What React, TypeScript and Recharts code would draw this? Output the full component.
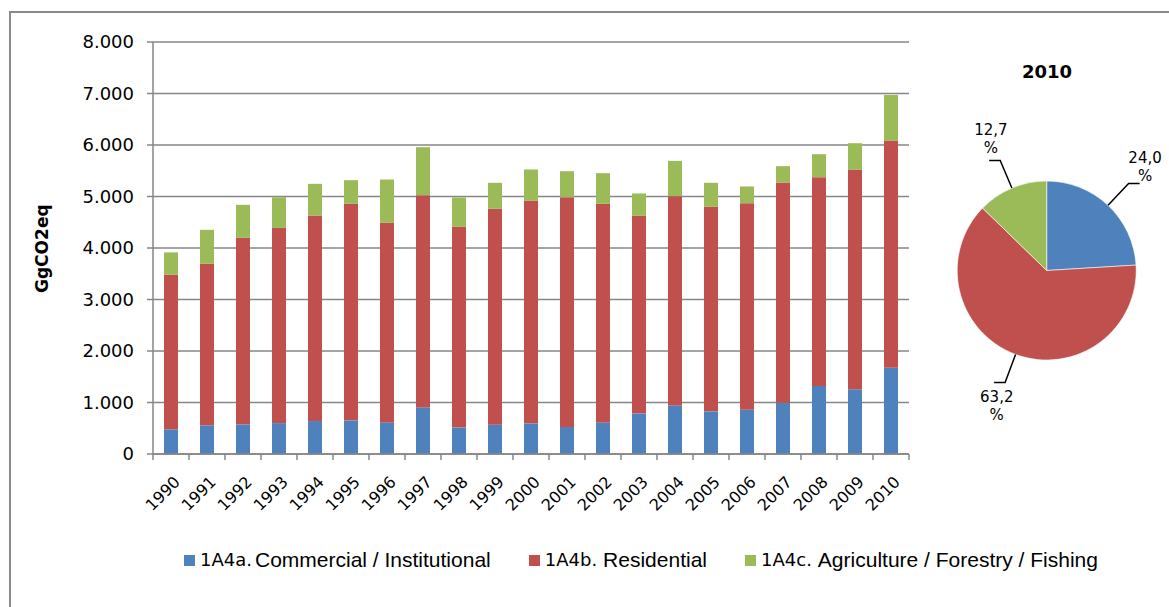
import React from 'react';
import { BarChart, Bar, XAxis, YAxis, CartesianGrid, PieChart, Pie, Cell } from 'recharts';

const years = ['1990','1991','1992','1993','1994','1995','1996','1997','1998','1999','2000','2001','2002','2003','2004','2005','2006','2007','2008','2009','2010'];
const commercial = [480,557,576,600,640,653,614,905,517,569,595,524,614,789,944,828,860,996,1320,1255,1676];
const residential = [3000,3136,3622,3790,3992,4205,3875,4121,3894,4192,4321,4463,4244,3836,4063,3972,4011,4276,4056,4262,4410];
const agriculture = [435,660,640,595,614,459,841,932,570,505,609,505,595,434,685,466,324,317,446,518,887];
const yTicks = [0,1000,2000,3000,4000,5000,6000,7000,8000];

const seriesCodes = ['1A4a.', '1A4b.', '1A4c.'];
const seriesNames = ['Commercial / Institutional', 'Residential', 'Agriculture / Forestry / Fishing'];
const seriesKeys = ['commercial', 'residential', 'agriculture'];
const colors = ['#4F81BD', '#C0504D', '#9BBB59'];
const pieTitle = '2010';
const yLabel = 'GgCO2eq';

const data = years.map((year, i) => ({
  year,
  commercial: commercial[i],
  residential: residential[i],
  agriculture: agriculture[i],
}));

const last = years.length - 1;
const pieData = [
  { name: seriesNames[0], value: commercial[last] },
  { name: seriesNames[1], value: residential[last] },
  { name: seriesNames[2], value: agriculture[last] },
];

const GRID = '#868686';
const VERDANA = '"DejaVu Sans", Verdana, sans-serif';
const ARIAL = '"Liberation Sans", Arial, sans-serif';

const CHART_W = 930;
const CHART_H = 600;
const MARGIN = { top: 42, right: 21, bottom: 0, left: 0 };
const Y_W = 153;
const PLOT_W = CHART_W - MARGIN.left - MARGIN.right - Y_W;
const STEP = PLOT_W / years.length;

const fmt = (n: number) => {
  if (n === 0) return '0';
  const th = Math.floor(n / 1000);
  const rest = n % 1000;
  return th > 0 ? `${th}.${String(rest).padStart(3, '0')}` : String(rest);
};

const XTick = (props: any) => {
  const { x, y, payload } = props;
  const half = STEP / 2;
  const isLast = payload.value === years[last];
  return (
    <g>
      <line x1={x - half} x2={x - half} y1={y} y2={y + 6} stroke={GRID} strokeWidth={1.5} />
      {isLast && <line x1={x + half} x2={x + half} y1={y} y2={y + 6} stroke={GRID} strokeWidth={1.5} />}
      <text
        transform={`translate(${x + 2},${y + 21}) rotate(-45)`}
        textAnchor="end"
        dy="0.71em"
        fontFamily={VERDANA}
        fontSize={16}
        fill="#000"
      >
        {payload.value}
      </text>
    </g>
  );
};

const RAD = Math.PI / 180;
const renderPieLabel = (props: any) => {
  const { cx, cy, midAngle, outerRadius, percent } = props;
  const c = Math.cos(-midAngle * RAD);
  const s = Math.sin(-midAngle * RAD);
  const p1x = cx + outerRadius * c;
  const p1y = cy + outerRadius * s;
  const p2x = cx + (outerRadius + 30) * c;
  const p2y = cy + (outerRadius + 30) * s;
  const side = c >= 0 ? 1 : -1;
  const p3x = p2x + side * 11;
  const tx = cx + (outerRadius + 54) * c;
  const ty = cy + (outerRadius + 54) * s;
  const txt = (percent * 100).toFixed(1).replace('.', ',');
  return (
    <g>
      <polyline
        points={`${p1x},${p1y} ${p2x},${p2y} ${p3x},${p2y}`}
        fill="none"
        stroke="#000"
        strokeWidth={1.5}
      />
      <text x={tx} y={ty} textAnchor="middle" fontFamily={VERDANA} fontSize={15} fill="#000">
        <tspan x={tx} dy={-3.5}>{txt}</tspan>
        <tspan x={tx} dy={18}>%</tspan>
      </text>
    </g>
  );
};

export default function App() {
  return (
    <div
      style={{
        position: 'absolute',
        left: 0,
        top: 0,
        width: 1169,
        height: 607,
        overflow: 'hidden',
        background: '#fff',
        fontFamily: VERDANA,
      }}
    >
      <div
        style={{
          position: 'absolute',
          left: 9,
          top: 11,
          width: 1300,
          height: 800,
          border: '2px solid #8a8a8a',
          boxSizing: 'border-box',
        }}
      />
      <div style={{ position: 'absolute', left: 0, top: 0 }}>
        <BarChart width={CHART_W} height={CHART_H} data={data} margin={MARGIN} barSize={14}>
          <CartesianGrid vertical={false} stroke={GRID} strokeWidth={1.5} />
          <XAxis
            dataKey="year"
            interval={0}
            tickLine={false}
            tickSize={0}
            tickMargin={0}
            height={CHART_H - 454}
            axisLine={{ stroke: GRID, strokeWidth: 1.5 }}
            tick={<XTick />}
          />
          <YAxis
            width={Y_W}
            domain={[0, 8000]}
            ticks={yTicks}
            interval={0}
            tickFormatter={fmt}
            tickSize={6}
            tickMargin={13}
            tickLine={{ stroke: GRID, strokeWidth: 1.5 }}
            axisLine={{ stroke: GRID, strokeWidth: 1.5 }}
            tick={{ fill: '#000', fontSize: 18, fontFamily: VERDANA }}
          />
          {seriesKeys.map((k, i) => (
            <Bar key={k} dataKey={k} stackId="a" fill={colors[i]} isAnimationActive={false} />
          ))}
        </BarChart>
      </div>
      <div
        style={{
          position: 'absolute',
          left: 0,
          top: 251,
          width: 84,
          textAlign: 'center',
          transform: 'translate(0px, -50%) rotate(-90deg)',
          fontFamily: VERDANA,
          fontWeight: 'bold',
          fontSize: 17,
          lineHeight: '20px',
          color: '#000',
        }}
      >
        {yLabel}
      </div>
      <div
        style={{
          position: 'absolute',
          left: 1047 - 60,
          top: 61,
          width: 120,
          textAlign: 'center',
          fontFamily: VERDANA,
          fontWeight: 'bold',
          fontSize: 18,
          lineHeight: '22px',
          color: '#000',
        }}
      >
        {pieTitle}
      </div>
      <div style={{ position: 'absolute', left: 940, top: 40 }}>
        <PieChart width={229} height={440} margin={{ top: 0, right: 0, bottom: 0, left: 0 }}>
          <Pie
            data={pieData}
            dataKey="value"
            cx={106.7}
            cy={230.5}
            outerRadius={89.5}
            startAngle={90}
            endAngle={-270}
            stroke="#ffffff"
            strokeWidth={0.6}
            label={renderPieLabel}
            labelLine={false}
            isAnimationActive={false}
          >
            {pieData.map((d, i) => (
              <Cell key={d.name} fill={colors[i]} />
            ))}
          </Pie>
        </PieChart>
      </div>
      <div
        style={{
          position: 'absolute',
          left: 184,
          top: 548,
          height: 24,
          display: 'flex',
          alignItems: 'center',
          whiteSpace: 'nowrap',
          color: '#000',
        }}
      >
        {seriesNames.map((name, i) => (
          <div key={name} style={{ display: 'flex', alignItems: 'center', marginRight: 38 }}>
            <div style={{ width: 11, height: 11, background: colors[i], marginRight: 5 }} />
            <span style={{ fontFamily: VERDANA, fontSize: 18, lineHeight: '24px' }}>{seriesCodes[i]}</span>
            <span style={{ fontFamily: ARIAL, fontSize: 21, lineHeight: '24px', marginLeft: i === 0 ? 3 : 6 }}>{name}</span>
          </div>
        ))}
      </div>
    </div>
  );
}
